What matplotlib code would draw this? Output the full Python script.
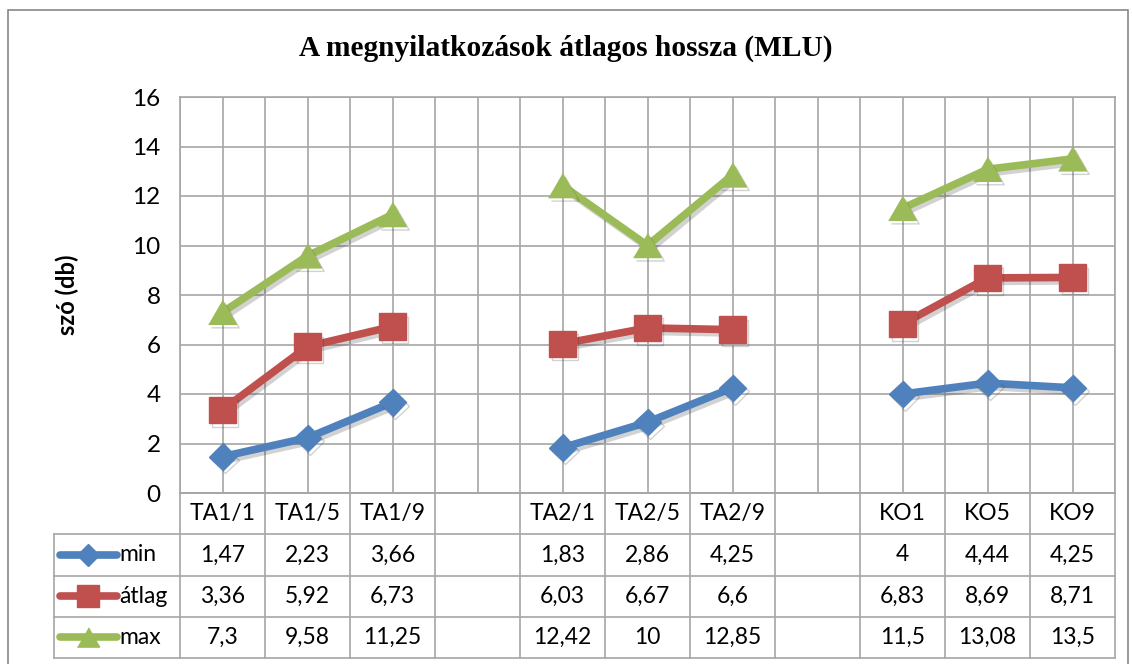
import numpy as np
import matplotlib
matplotlib.use("Agg")
import matplotlib.pyplot as plt
import matplotlib.patheffects as pe
from matplotlib.patches import Rectangle

# ---- data ----
categories = ["TA1/1", "TA1/5", "TA1/9", "", "TA2/1", "TA2/5", "TA2/9", "", "KO1", "KO5", "KO9"]
min_vals = [1.47, 2.23, 3.66, np.nan, 1.83, 2.86, 4.25, np.nan, 4, 4.44, 4.25]
atlag_vals = [3.36, 5.92, 6.73, np.nan, 6.03, 6.67, 6.6, np.nan, 6.83, 8.69, 8.71]
max_vals = [7.3, 9.58, 11.25, np.nan, 12.42, 10, 12.85, np.nan, 11.5, 13.08, 13.5]
series_names = ["min", "átlag", "max"]
title = "A megnyilatkozások átlagos hossza (MLU)"
ylabel = "szó (db)"
yticks = [0, 2, 4, 6, 8, 10, 12, 14, 16]

W, H = 1132, 664
fig = plt.figure(figsize=(W / 100, H / 100), dpi=100)
fig.patch.set_facecolor("white")

BODY = "Lato"
FS = 16.5
GRID = "#A6A6A6"
colors = ["#4F81BD", "#C0504D", "#9BBB59"]
tri = [(-1, -0.866), (1, -0.866), (0, 0.866)]
markers = ["D", "s", tri]
msizes = [13.5, 19, 20]
series = [min_vals, atlag_vals, max_vals]

# outer border
fig.add_artist(Rectangle((8 / W, -0.01), 1120 / W, 1 - 10 / H + 0.01, transform=fig.transFigure,
                         fill=False, edgecolor="#888888", lw=1.2))

# plot area
L, R, T, B = 180, 1115, 97, 493
ax = fig.add_axes([L / W, 1 - B / H, (R - L) / W, (B - T) / H])
n = len(categories)
ax.set_xlim(-0.5, n - 0.5)
ax.set_ylim(0, 16)
ax.set_yticks(yticks)
ax.set_yticklabels([str(v) for v in yticks], fontfamily=BODY, fontsize=17.5)
ax.set_xticks(np.arange(-0.5, n, 0.5))
ax.set_xticklabels([])
ax.tick_params(length=0, pad=14)
ax.grid(True, color=GRID, lw=1.2)
ax.set_axisbelow(True)
for s in ax.spines.values():
    s.set_color(GRID)
    s.set_linewidth(1.2)

shadow = [pe.SimpleLineShadow(offset=(2, -2.5), alpha=0.22, shadow_color="#333333"), pe.Normal()]
x = np.arange(n)
for vals, c, m, ms in zip(series, colors, markers, msizes):
    ax.plot(x, vals, color=c, lw=5.5, marker=m, ms=ms, mec=c, mfc=c,
            path_effects=shadow, zorder=3, clip_on=False)

ax.set_ylabel(ylabel, fontfamily=BODY, fontweight="bold", fontsize=17, labelpad=38)
fig.text(0.5, 1 - 48 / H, title, ha="center", va="center", fontfamily="Liberation Serif",
         fontweight="bold", fontsize=21.2)

# data table
TB = 658
tax = fig.add_axes([L / W, 1 - TB / H, (R - L) / W, (TB - B) / H])
tax.set_xlim(-0.5, n - 0.5)
tax.set_ylim(0, 4)
tax.axis("off")
colw = (R - L) / n
left_edge = -0.5 - (L - 54) / colw
lk = dict(color=GRID, lw=1.2, clip_on=False)
# horizontal lines
tax.plot([-0.5, n - 0.5], [4, 4], **lk)
for yy in [3, 2, 1, 0]:
    tax.plot([left_edge, n - 0.5], [yy, yy], **lk)
# vertical lines
for xx in np.arange(-0.5, n, 1.0):
    tax.plot([xx, xx], [0, 4], **lk)
tax.plot([left_edge, left_edge], [0, 3], **lk)

for i, cat in enumerate(categories):
    tax.text(i, 3.5, cat, ha="center", va="center", fontfamily=BODY, fontsize=FS)

def fmt(v):
    return f"{v:g}".replace(".", ",")

for r, (vals, name, c, m, ms) in enumerate(zip(series, series_names, colors, markers, msizes)):
    yc = 2.5 - r
    for i, v in enumerate(vals):
        if not np.isnan(v):
            tax.text(i, yc, fmt(v), ha="center", va="center", fontfamily=BODY, fontsize=FS)
    k0 = -0.5 - (L - 60) / colw
    k1 = -0.5 - (L - 117) / colw
    tax.plot([k0, k1], [yc, yc], color=c, lw=5.5, solid_capstyle="round", clip_on=False)
    tax.plot([(k0 + k1) / 2], [yc], marker=m, ms=ms * 0.8, color=c, clip_on=False)
    tax.text(-0.5 - (L - 119) / colw, yc, name, ha="left", va="center", fontfamily=BODY, fontsize=FS)

fig.savefig("out.png", dpi=100)
